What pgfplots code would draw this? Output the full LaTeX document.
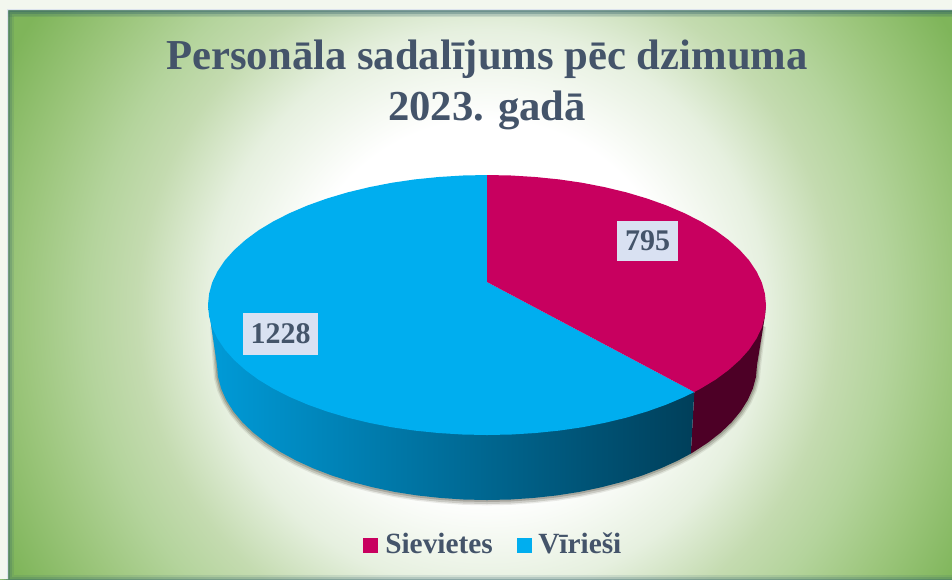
\documentclass[border=0pt]{standalone}
\usepackage{pgfplots}
\usepackage{pgfplotstable}
\usepackage{fontspec}
\setmainfont{Liberation Serif}
\pgfplotsset{compat=1.18}
\definecolor{txt}{HTML}{44546A}
\definecolor{mag}{HTML}{C8005F}
\definecolor{blu}{HTML}{00AEEF}
\definecolor{magw}{HTML}{4D0026}
\definecolor{bluL}{HTML}{009BD8}
\definecolor{bluR}{HTML}{003F5A}
\definecolor{lab}{HTML}{D9E1F2}
\definecolor{edge}{HTML}{2F5F6A}
\definecolor{margin}{HTML}{F3F7EF}
\definecolor{bord}{HTML}{DDE3EE}
\pgfdeclareradialshading{bgshade}{\pgfpoint{0bp}{0bp}}{%
 rgb(0bp)=(1,1,1);
 rgb(7.92bp)=(1,1,1);
 rgb(11.67bp)=(0.902,0.941,0.875);
 rgb(14.58bp)=(0.769,0.859,0.690);
 rgb(16.67bp)=(0.706,0.831,0.612);
 rgb(19.38bp)=(0.612,0.776,0.486);
 rgb(22.5bp)=(0.498,0.710,0.353);
 rgb(50bp)=(0.498,0.710,0.353)}
\pgfplotstableread{
x y
762 325
757 365
756 376.8
752.9 388.4
747.8 399.9
740.7 411.2
731.7 422.1
720.8 432.5
708.2 442.4
693.8 451.8
690.8 453.6
677.9 460.5
660.6 468.4
641.9 475.6
622 481.9
601.1 487.3
579.3 491.9
556.9 495.4
533.9 497.9
510.5 499.5
487 500
463.5 499.5
440.1 497.9
417.1 495.4
394.7 491.9
372.9 487.3
352 481.9
332.1 475.6
313.4 468.4
296.1 460.5
280.2 451.8
265.8 442.4
253.2 432.5
242.3 422.1
233.3 411.2
226.2 399.9
221.1 388.4
218 376.8
217 365
214 325
}\lowerarc
\begin{document}
\begin{tikzpicture}
\begin{axis}[
  scale only axis, width=714bp, height=434.25bp,
  xmin=0, xmax=952, ymin=0, ymax=579, y dir=reverse,
  hide axis, clip=true]
% background
\addplot[draw=none, shade, shading=bgshade] coordinates {(-113,-290) (1087,-290) (1087,910) (-113,910)} -- cycle;
% inner edge shadow
\draw[edge, opacity=.12, line width=9bp] (axis cs:8,10) rectangle (axis cs:1000,581);
\draw[edge, opacity=.18, line width=6bp] (axis cs:8,10) rectangle (axis cs:1000,581);
\draw[edge, opacity=.3, line width=3bp] (axis cs:8,10) rectangle (axis cs:1000,581);
\draw[edge, opacity=.14, line width=6bp] (axis cs:8,10) -- (axis cs:1000,10);
\draw[edge, opacity=.14, line width=10bp] (axis cs:8,10) -- (axis cs:1000,10);
% margins
\addplot[draw=none, fill=margin] coordinates {(0,0) (952,0) (952,10) (8,10) (8,579) (0,579)} -- cycle;
\addplot[draw=bord, line width=1.2bp] coordinates {(7.5,579) (7.5,9.5) (952,9.5)};
% pie shadow
\addplot[draw=black!70!olive, opacity=.10, line width=6bp, yshift=-1bp] table {\lowerarc};
\addplot[draw=black!70!olive, opacity=.18, line width=4bp, yshift=-1bp] table {\lowerarc};
\addplot[draw=black!70!olive, opacity=.25, line width=2bp, yshift=-.5bp] table {\lowerarc};
% side walls
\addplot[draw=none, fill=magw] coordinates {
 (694.3,392) (766,305) (764.9,316.3) (757,365) (756,376.8) (752.9,388.4) (747.8,399.9) (740.7,411.2)
 (731.7,422.1) (720.8,432.5) (708.2,442.4) (693.8,451.8) (690.8,453.6)} -- cycle;
\addplot[draw=none, left color=bluL, right color=bluR] coordinates {
 (694.3,392) (690.8,453.6) (677.9,460.5) (660.6,468.4) (641.9,475.6) (622,481.9) (601.1,487.3)
 (579.3,491.9) (556.9,495.4) (533.9,497.9) (510.5,499.5) (487,500) (463.5,499.5) (440.1,497.9)
 (417.1,495.4) (394.7,491.9) (372.9,487.3) (352,481.9) (332.1,475.6) (313.4,468.4) (296.1,460.5)
 (280.2,451.8) (265.8,442.4) (253.2,432.5) (242.3,422.1) (233.3,411.2) (226.2,399.9) (221.1,388.4)
 (218,376.8) (217,365) (208,305) (487,305)} -- cycle;
% top: Vīrieši 1228
\addplot[draw=none, fill=blu] coordinates {
 (487,282) (694.3,392) (684.3,396.9) (666.3,404.6) (647,411.5) (626.5,417.6) (604.9,422.8) (582.4,427.2)
 (559.2,430.6) (535.4,433) (511.3,434.5) (487,435) (462.7,434.5) (438.6,433) (414.8,430.6) (391.6,427.2)
 (369.1,422.8) (347.5,417.6) (327,411.5) (307.7,404.6) (289.7,396.9) (273.3,388.6) (258.4,379.6)
 (245.4,370) (234.1,359.9) (224.8,349.5) (217.5,338.6) (212.2,327.6) (209.1,316.3) (208,305)
 (209.1,293.7) (212.2,282.4) (217.5,271.4) (224.8,260.5) (234.1,250.1) (245.4,240) (258.4,230.4)
 (273.3,221.4) (289.7,213.1) (307.7,205.4) (327,198.5) (347.5,192.4) (369.1,187.2) (391.6,182.8)
 (414.8,179.4) (438.6,177) (462.7,175.5) (487,175)} -- cycle;
% top: Sievietes 795
\addplot[draw=none, fill=mag] coordinates {
 (487,282) (487,175) (511.3,175.5) (535.4,177) (559.2,179.4) (582.4,182.8) (604.9,187.2) (626.5,192.4)
 (647,198.5) (666.3,205.4) (684.3,213.1) (700.7,221.4) (715.6,230.4) (728.6,240) (739.9,250.1)
 (749.2,260.5) (756.5,271.4) (761.8,282.4) (764.9,293.7) (766,305) (764.9,316.3) (761.8,327.6)
 (756.5,338.6) (749.2,349.5) (739.9,359.9) (728.6,370) (715.6,379.6) (700.7,388.6) (694.3,392)} -- cycle;
% legend keys
\addplot[draw=none, fill=mag] coordinates {(363,538) (378,538) (378,553) (363,553)} -- cycle;
\addplot[draw=none, fill=blu] coordinates {(517,538) (532,538) (532,553) (517,553)} -- cycle;
% labels
\node[fill=lab, minimum width=45.75bp, minimum height=30bp, inner sep=0pt, text=txt, font=\fontsize{22.5bp}{22.5bp}\selectfont\bfseries] at (axis cs:647.5,241) {795};
\node[fill=lab, minimum width=56.25bp, minimum height=31.5bp, inner sep=0pt, text=txt, font=\fontsize{22.5bp}{22.5bp}\selectfont\bfseries] at (axis cs:280.5,334) {1228};
% text
\node[anchor=base, text=txt, font=\fontsize{32bp}{32bp}\selectfont\bfseries, inner sep=0pt] at (axis cs:487,69) {Personāla sadalījums pēc dzimuma};
\node[anchor=base, text=txt, font=\fontsize{32bp}{32bp}\selectfont\bfseries, inner sep=0pt] at (axis cs:487,120) {2023. gadā};
\node[anchor=base west, text=txt, font=\fontsize{22bp}{22bp}\selectfont\bfseries, inner sep=0pt] at (axis cs:385,553) {Sievietes};
\node[anchor=base west, text=txt, font=\fontsize{22bp}{22bp}\selectfont\bfseries, inner sep=0pt] at (axis cs:538,553) {Vīrieši};
\end{axis}
\end{tikzpicture}
\end{document}
